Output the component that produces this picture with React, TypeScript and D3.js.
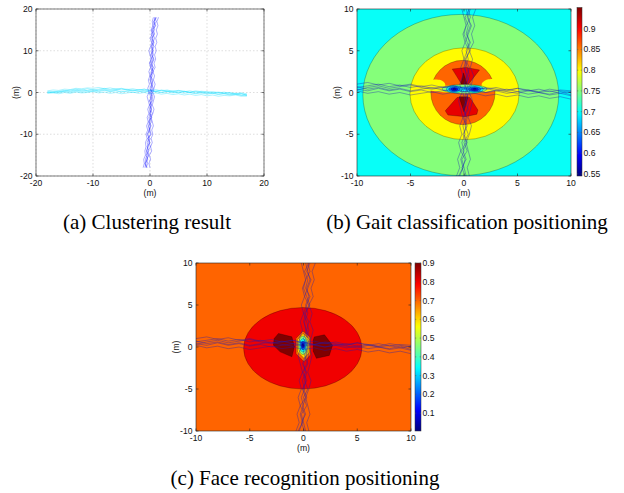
import React from 'react';
import * as d3 from 'd3';

// ---------- data ----------
const TICKS_A = [-20, -10, 0, 10, 20];
const TICKS_BC = [-10, -5, 0, 5, 10];
const CBAR_TICKS_B = [0.55, 0.6, 0.65, 0.7, 0.75, 0.8, 0.85, 0.9];
const CBAR_TICKS_C = [0.1, 0.2, 0.3, 0.4, 0.5, 0.6, 0.7, 0.8, 0.9];
const CBAR_DOMAIN_B = [0.545, 0.951];
const CBAR_DOMAIN_C = [0.005, 0.9];

// vertical tracks: sampled y positions, x values per track
const VTRACK_Y = [-18,-17,-16,-15,-14,-13,-12,-11,-10,-9,-8,-7,-6,-5,-4,-3,-2,-1,0,1,2,3,4,5,6,7,8,9,10,11,12,13,14,15,16,17,18];
const V1 = [-0.9,-0.7,-0.8,-0.5,-0.6,-0.3,-0.5,-0.2,-0.4,-0.1,-0.3,0.0,-0.2,0.1,-0.1,0.2,0.0,0.3,0.1,0.4,0.2,0.1,0.4,0.2,0.5,0.3,0.6,0.4,0.2,0.5,0.7,0.4,0.8,0.6,0.9,0.7,1.0];
const V2 = [-0.5,-0.8,-0.4,-0.7,-0.2,-0.5,0.0,-0.3,0.1,-0.2,0.2,-0.1,0.3,0.0,0.2,-0.1,0.3,0.5,0.2,0.6,0.3,0.0,0.2,0.5,0.1,0.4,0.7,0.3,0.6,0.2,0.5,0.8,0.5,0.3,0.7,1.1,0.8];
const V3 = [-0.7,-0.4,-0.6,-0.2,-0.4,0.1,-0.2,0.0,-0.5,-0.1,0.1,-0.3,0.2,-0.1,0.3,0.0,0.4,0.1,-0.1,0.2,0.5,0.3,0.0,0.3,0.6,0.2,0.4,0.1,0.5,0.3,0.6,0.2,0.7,0.4,1.0,0.6,1.2];
const V4 = [-0.6,-0.9,-0.5,-0.3,-0.6,-0.4,-0.1,-0.4,0.2,0.0,-0.2,0.3,0.0,0.4,0.1,0.3,-0.1,0.2,0.4,0.0,0.3,0.5,0.1,0.6,0.3,0.0,0.2,0.6,0.4,0.7,0.3,0.5,0.2,0.8,0.5,0.8,0.9];
const V5 = [0.0,-0.2,0.1,-0.1,0.3,0.1,0.4,0.2,0.5,0.3,0.6,0.4,0.2,0.5,0.7,0.4,0.6,0.8,0.5,0.7,0.9,0.6,0.8,0.5,0.9,0.7,1.0,0.8,1.1,0.9,1.2,1.0,1.3,1.1,1.4,1.2,1.5];
const V6 = [-1.2,-1.0,-1.1,-0.8,-0.9,-0.7,-0.8,-0.5,-0.7,-0.4,-0.6,-0.3,-0.5,-0.2,-0.4,-0.1,-0.3,-0.5,-0.2,-0.4,-0.1,-0.3,0.0,-0.2,0.1,-0.1,0.2,0.0,-0.2,0.1,0.3,0.0,0.4,0.2,0.5,0.4,0.6];
// horizontal tracks: sampled x positions, y values per track
const HTRACK_X = [-18,-17,-16,-15,-14,-13,-12,-11,-10,-9,-8,-7,-6,-5,-4,-3,-2,-1,0,1,2,3,4,5,6,7,8,9,10,11,12,13,14,15,16,17];
const H1 = [0.2,0.1,0.3,0.5,0.4,0.6,0.3,0.5,0.7,0.4,0.6,0.3,0.5,0.2,0.4,0.6,0.3,0.1,0.4,0.2,0.0,0.3,0.1,-0.1,0.2,0.0,-0.2,0.1,-0.3,-0.1,-0.4,-0.2,-0.5,-0.3,-0.6,-0.5];
const H2 = [0.0,0.2,0.1,0.3,0.6,0.8,0.5,0.9,0.6,0.8,1.0,0.7,0.9,0.6,0.8,0.5,0.7,0.4,0.6,0.3,0.5,0.2,0.4,0.1,0.3,0.0,0.2,-0.1,0.1,-0.2,0.0,-0.3,-0.1,-0.4,-0.3,-0.6];
const H3 = [0.1,0.0,0.2,0.4,0.2,0.5,0.7,0.4,0.3,0.6,0.8,0.5,0.7,0.9,0.6,0.4,0.6,0.8,0.5,0.3,0.6,0.4,0.2,0.5,0.3,0.1,0.4,0.2,0.0,0.2,-0.1,0.1,-0.2,-0.4,-0.2,-0.7];
const H4 = [-0.1,0.1,0.0,0.2,0.0,0.3,0.1,0.2,0.4,0.2,0.5,0.2,0.4,0.1,0.3,0.0,0.2,0.4,0.1,0.3,0.0,0.2,-0.1,0.1,-0.2,0.0,-0.3,-0.1,-0.4,-0.2,-0.5,-0.3,-0.6,-0.4,-0.7,-0.8];
const H5 = [0.4,0.6,0.5,0.8,0.7,1.0,0.9,1.1,1.0,1.2,0.9,1.1,0.8,1.0,0.7,0.9,0.6,0.8,0.5,0.7,0.4,0.6,0.3,0.5,0.2,0.4,0.1,0.3,0.2,0.0,0.1,-0.1,0.0,-0.2,-0.1,-0.3];
const H6 = [-0.2,-0.1,-0.3,0.0,-0.2,0.1,-0.1,0.0,0.2,-0.1,0.1,-0.2,0.0,-0.3,-0.1,0.1,-0.2,0.0,-0.3,-0.1,-0.4,-0.2,-0.5,-0.3,-0.6,-0.4,-0.7,-0.5,-0.8,-0.6,-0.9,-0.7,-0.8,-0.6,-0.9,-0.8];
const VTRACKS = [V1, V2, V3, V4, V5, V6];
const HTRACKS = [H1, H2, H3, H4, H5, H6];

// contour regions (data units), painted in order; ns = no contour edge
type Region = { level: number; e?: number[]; p?: number[][]; smooth?: boolean; ns?: boolean };
const GAIT_REGIONS: Region[] = [
  { level: 0.75, e: [-0.3, -0.3, 9.15, 9.65] },
  { level: 0.8, e: [0.05, -0.15, 5.1, 5.5] },
  { level: 0.86, e: [-0.1, 0.0, 3.0, 3.85] },
  { level: 0.8, p: [[-3.4,1.35],[-2.2,1.5],[-1.75,1.0],[-2.0,0.45],[-3.4,0.4]], smooth: true, ns: true },
  { level: 0.8, p: [[3.4,1.4],[2.2,1.55],[1.65,1.0],[1.9,0.45],[3.4,0.45]], smooth: true, ns: true },
  { level: 0.8, e: [0.0, 0.42, 3.3, 0.45], ns: true },
  { level: 0.91, p: [[-1.1,2.8],[0.2,3.0],[1.45,2.7],[0.45,1.05],[-0.25,1.05]] },
  { level: 0.91, p: [[-0.65,-0.6],[0.55,-0.6],[1.3,-2.1],[1.2,-2.6],[0.1,-2.9],[-1.5,-2.7],[-1.75,-2.2]] },
  { level: 0.95, p: [[-0.05,2.35],[0.3,1.0],[-0.3,1.0]] },
  { level: 0.95, p: [[-0.47,-0.5],[0.37,-0.5],[0.0,-2.3]] },
  { level: 0.75, e: [0.05, 0.42, 2.1, 0.55] },
  { level: 0.7, e: [0.05, 0.4, 1.5, 0.28] },
  { level: 0.7, e: [-0.9, 0.4, 0.75, 0.45] },
  { level: 0.7, e: [1.0, 0.4, 0.8, 0.45] },
  { level: 0.65, e: [-0.9, 0.4, 0.52, 0.32] },
  { level: 0.65, e: [1.0, 0.38, 0.57, 0.32] },
  { level: 0.6, e: [-0.9, 0.4, 0.32, 0.2] },
  { level: 0.6, e: [1.0, 0.38, 0.35, 0.2] },
  { level: 0.55, e: [-0.9, 0.4, 0.14, 0.1] },
  { level: 0.55, e: [1.0, 0.38, 0.15, 0.1] },
];
const GAIT_BACKGROUND = 0.7;

const FACE_REGIONS: Region[] = [
  { level: 0.8, e: [-0.07, -0.15, 5.5, 4.85] },
  { level: 0.9, p: [[-2.33,1.61],[-1.08,1.21],[-0.84,0.02],[-1.08,-1.17],[-2.17,-0.58],[-2.8,0.22],[-2.73,1.0]] },
  { level: 0.9, p: [[1.0,1.2],[1.95,1.45],[2.7,0.2],[2.4,-1.0],[1.2,-1.35],[0.9,-0.5],[0.9,0.8]] },
  { level: 0.7, p: [[-0.05,1.9],[0.65,1.15],[0.65,-0.95],[0.05,-1.75],[-0.7,-0.8],[-0.7,1.05]] },
  { level: 0.6, p: [[-0.05,1.6],[0.5,1.0],[0.5,-0.7],[0.05,-1.35],[-0.55,-0.6],[-0.55,0.9]] },
  { level: 0.45, e: [-0.05, 0.2, 0.42, 1.1] },
  { level: 0.35, e: [-0.05, 0.2, 0.3, 0.8] },
  { level: 0.2, e: [-0.05, 0.2, 0.2, 0.5] },
  { level: 0.1, e: [-0.05, 0.2, 0.12, 0.3] },
  { level: 0.005, e: [-0.05, 0.2, 0.06, 0.15] },
];
const FACE_BACKGROUND = 0.7;

// ---------- helpers ----------
const clamp = (v: number) => Math.max(0, Math.min(1, v));
function jet(t: number) {
  const r = clamp(1.5 - Math.abs(4 * t - 3));
  const g = clamp(1.5 - Math.abs(4 * t - 2));
  const b = clamp(1.5 - Math.abs(4 * t - 1));
  return d3.rgb(r * 255, g * 255, b * 255).formatHex();
}

const FONT = '"Liberation Sans", Arial, Helvetica, sans-serif';
const SERIF = '"Liberation Serif", "Times New Roman", serif';

type Box = { x0: number; x1: number; y0: number; y1: number };

function VTracks({ xs, ys, color, width, opacity }: any) {
  const line = d3.line<number[]>().x((d) => xs(d[0])).y((d) => ys(d[1]));
  return (
    <g fill="none" stroke={color} strokeWidth={width} strokeOpacity={opacity}>
      {VTRACKS.map((t, i) => (
        <path key={'v' + i} d={line(t.map((xv, j) => [xv, VTRACK_Y[j]])) || ''} />
      ))}
    </g>
  );
}
function HTracks({ xs, ys, color, width, opacity }: any) {
  const line = d3.line<number[]>().x((d) => xs(d[0])).y((d) => ys(d[1]));
  return (
    <g fill="none" stroke={color} strokeWidth={width} strokeOpacity={opacity}>
      {HTRACKS.map((t, i) => (
        <path key={'h' + i} d={line(t.map((yv, j) => [HTRACK_X[j], yv])) || ''} />
      ))}
    </g>
  );
}

function AxisFrame({ box, xs, ys, ticks, grid }: any) {
  const { x0, x1, y0, y1 } = box;
  const tl = 2.5;
  return (
    <g>
      {grid &&
        ticks.map((t: number) => (
          <g key={'g' + t} stroke="#c8c8c8" strokeWidth={0.6} strokeDasharray="1.5,2">
            <line x1={xs(t)} x2={xs(t)} y1={y0} y2={y1} />
            <line x1={x0} x2={x1} y1={ys(t)} y2={ys(t)} />
          </g>
        ))}
      <rect x={x0} y={y0} width={x1 - x0} height={y1 - y0} fill="none" stroke="#222" strokeWidth={0.6} />
      <g stroke="#222" strokeWidth={0.6}>
        {ticks.map((t: number) => (
          <g key={'t' + t}>
            <line x1={xs(t)} x2={xs(t)} y1={y1} y2={y1 - tl} />
            <line x1={xs(t)} x2={xs(t)} y1={y0} y2={y0 + tl} />
            <line x1={x0} x2={x0 + tl} y1={ys(t)} y2={ys(t)} />
            <line x1={x1} x2={x1 - tl} y1={ys(t)} y2={ys(t)} />
          </g>
        ))}
      </g>
      <g fontFamily={FONT} fontSize={8.6} fill="#111">
        {ticks.map((t: number) => (
          <text key={'xl' + t} x={xs(t)} y={y1 + 9.5} textAnchor="middle">{String(t)}</text>
        ))}
        {ticks.map((t: number) => (
          <text key={'yl' + t} x={x0 - 3.5} y={ys(t) + 3} textAnchor="end">{String(t)}</text>
        ))}
        <text x={(x0 + x1) / 2} y={y1 + 20} textAnchor="middle">(m)</text>
        <text transform={`translate(${x0 - 17},${(y0 + y1) / 2}) rotate(-90)`} textAnchor="middle">(m)</text>
      </g>
    </g>
  );
}

function Regions({ regions, xs, ys, cs, bg, box }: any) {
  const kx = Math.abs(xs(1) - xs(0));
  const ky = Math.abs(ys(1) - ys(0));
  return (
    <g stroke="#000" strokeOpacity={0.55} strokeWidth={0.45}>
      <rect x={box.x0} y={box.y0} width={box.x1 - box.x0} height={box.y1 - box.y0} fill={jet(cs(bg))} stroke="none" />
      {regions.map((r: Region, i: number) => {
        const fill = jet(cs(r.level));
        const stroke = r.ns ? 'none' : undefined;
        if (r.e) {
          return <ellipse key={i} cx={xs(r.e[0])} cy={ys(r.e[1])} rx={r.e[2] * kx} ry={r.e[3] * ky} fill={fill} stroke={stroke} />;
        }
        const line = d3
          .line<number[]>()
          .x((d) => xs(d[0]))
          .y((d) => ys(d[1]))
          .curve(r.smooth ? d3.curveCatmullRomClosed : d3.curveLinearClosed);
        return <path key={i} d={line(r.p as number[][]) || ''} fill={fill} stroke={stroke} />;
      })}
    </g>
  );
}

function Colorbar({ x0, x1, y0, y1, domain, ticks, id }: any) {
  const cb = d3.scaleLinear().domain(domain).range([y1, y0]);
  const stops = d3.range(0, 1.0001, 0.02);
  return (
    <g>
      <defs>
        <linearGradient id={id} x1="0" y1="1" x2="0" y2="0">
          {stops.map((s) => (
            <stop key={s} offset={s} stopColor={jet(s)} />
          ))}
        </linearGradient>
      </defs>
      <rect x={x0} y={y0} width={x1 - x0} height={y1 - y0} fill={`url(#${id})`} stroke="#333" strokeWidth={0.5} />
      <g stroke="#555" strokeWidth={0.5}>
        {ticks.map((t: number) => (
          <g key={t}>
            <line x1={x0} x2={x0 + 1.3} y1={cb(t)} y2={cb(t)} />
            <line x1={x1} x2={x1 - 1.3} y1={cb(t)} y2={cb(t)} />
          </g>
        ))}
      </g>
      <g fontFamily={FONT} fontSize={8.6} fill="#111">
        {ticks.map((t: number) => (
          <text key={t} x={x1 + 1.5} y={cb(t) + 3}>{String(t)}</text>
        ))}
      </g>
    </g>
  );
}

export default function App() {
  // panel (a)
  const A: Box = { x0: 36, x1: 264, y0: 9, y1: 176 };
  const ax = d3.scaleLinear().domain([-20, 20]).range([A.x0, A.x1]);
  const ay = d3.scaleLinear().domain([-20, 20]).range([A.y1, A.y0]);
  // panel (b)
  const B: Box = { x0: 357, x1: 571, y0: 9, y1: 176 };
  const bx = d3.scaleLinear().domain([-10, 10]).range([B.x0, B.x1]);
  const by = d3.scaleLinear().domain([-10, 10]).range([B.y1, B.y0]);
  const bc = d3.scaleLinear().domain(CBAR_DOMAIN_B).range([0, 1]).clamp(true);
  // panel (c)
  const C: Box = { x0: 196, x1: 411, y0: 263, y1: 431 };
  const cx = d3.scaleLinear().domain([-10, 10]).range([C.x0, C.x1]);
  const cy = d3.scaleLinear().domain([-10, 10]).range([C.y1, C.y0]);
  const cc = d3.scaleLinear().domain(CBAR_DOMAIN_C).range([0, 1]).clamp(true);

  return (
    <svg width={624} height={493} style={{ position: 'absolute', left: 0, top: 0, background: '#fff' }}>
      <defs>
        <clipPath id="clipA"><rect x={A.x0} y={A.y0} width={A.x1 - A.x0} height={A.y1 - A.y0} /></clipPath>
        <clipPath id="clipB"><rect x={B.x0} y={B.y0} width={B.x1 - B.x0} height={B.y1 - B.y0} /></clipPath>
        <clipPath id="clipC"><rect x={C.x0} y={C.y0} width={C.x1 - C.x0} height={C.y1 - C.y0} /></clipPath>
      </defs>

      {/* (a) */}
      <rect x={A.x0} y={A.y0} width={A.x1 - A.x0} height={A.y1 - A.y0} fill="#fff" />
      <AxisFrame box={A} xs={ax} ys={ay} ticks={TICKS_A} grid />
      <g clipPath="url(#clipA)">
        <HTracks xs={ax} ys={ay} color="#22e0ff" width={0.7} opacity={0.55} />
        <VTracks xs={ax} ys={ay} color="#2a2aff" width={0.7} opacity={0.55} />
      </g>

      {/* (b) */}
      <g clipPath="url(#clipB)">
        <Regions regions={GAIT_REGIONS} xs={bx} ys={by} cs={bc} bg={GAIT_BACKGROUND} box={B} />
        <HTracks xs={bx} ys={by} color="#1a1ab8" width={0.55} opacity={0.7} />
        <VTracks xs={bx} ys={by} color="#1a1ab8" width={0.55} opacity={0.7} />
      </g>
      <AxisFrame box={B} xs={bx} ys={by} ticks={TICKS_BC} />
      <Colorbar x0={577} x1={582} y0={7.5} y1={176} domain={CBAR_DOMAIN_B} ticks={CBAR_TICKS_B} id="gradB" />

      {/* (c) */}
      <g clipPath="url(#clipC)">
        <Regions regions={FACE_REGIONS} xs={cx} ys={cy} cs={cc} bg={FACE_BACKGROUND} box={C} />
        <HTracks xs={cx} ys={cy} color="#1a1ab8" width={0.55} opacity={0.7} />
        <VTracks xs={cx} ys={cy} color="#1a1ab8" width={0.55} opacity={0.7} />
      </g>
      <AxisFrame box={C} xs={cx} ys={cy} ticks={TICKS_BC} />
      <Colorbar x0={415} x1={421} y0={263} y1={431} domain={CBAR_DOMAIN_C} ticks={CBAR_TICKS_C} id="gradC" />

      {/* captions */}
      <g fontFamily={SERIF} fontSize={21} fill="#000" textAnchor="middle">
        <text x={147} y={229}>(a) Clustering result</text>
        <text x={467} y={229}>(b) Gait classification positioning</text>
        <text x={305} y={485}>(c) Face recognition positioning</text>
      </g>
    </svg>
  );
}
